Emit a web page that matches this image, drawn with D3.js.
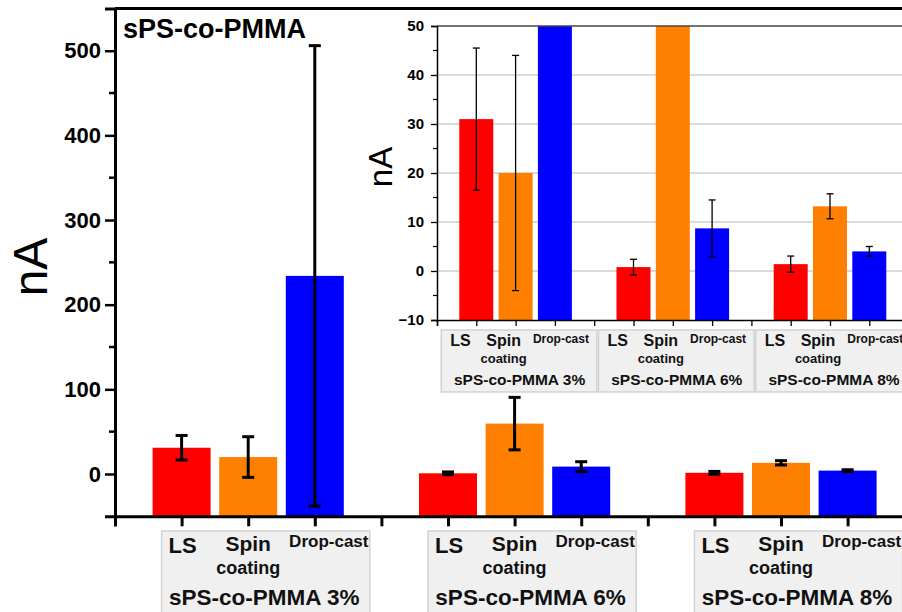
<!DOCTYPE html>
<html>
<head>
<meta charset="utf-8">
<script src="https://cdn.jsdelivr.net/npm/d3@7"></script>
<style>
  html, body { margin: 0; padding: 0; background: #fff; }
  svg { display: block; font-family: "Liberation Sans", Arial, sans-serif; }
</style>
</head>
<body>
<div id="chart"></div>
<script>
// data
const groups = ["sPS-co-PMMA 3%", "sPS-co-PMMA 6%", "sPS-co-PMMA 8%"];
const methods = ["LS", "Spin coating", "Drop-cast"];
const lsMean = [31, 0.8, 1.4];
const lsErr = [14.5, 1.6, 1.65];
const spinMean = [20, 59.5, 13.2];
const spinErr = [24, 31, 2.55];
const dropMean = [234, 8.7, 4.0];
const dropErr = [272, 5.8, 1.0];
const mainTicks = [0, 100, 200, 300, 400, 500];
const insetTicks = [-10, 0, 10, 20, 30, 40, 50];
const colors = ["#ff0000", "#ff8000", "#0000ff"];

const W = 902, H = 612;
const means = [lsMean, spinMean, dropMean];
const errs = [lsErr, spinErr, dropErr];

const rows = [];
groups.forEach((g, gi) => {
    methods.forEach((m, mi) => {
        rows.push({ group: gi, method: mi, pos: gi * 4 + mi + 1,
                    value: means[mi][gi], err: errs[mi][gi] });
    });
});

const svg = d3.select("#chart").append("svg")
    .attr("width", W).attr("height", H);

// ---------- main chart ----------
const x = d3.scaleLinear().domain([0, 12]).range([115, 115 + 12 * 66.6]);
const y = d3.scaleLinear().domain([-50, 550]).range([516.3, 8.4]);
const bw = 58;

const main = svg.append("g");

main.selectAll("rect.bar").data(rows).enter().append("rect")
    .attr("class", "bar")
    .attr("x", d => x(d.pos) - bw / 2)
    .attr("width", bw)
    .attr("y", d => y(d.value))
    .attr("height", d => y(-50) - y(d.value))
    .attr("fill", d => colors[d.method]);

const eb = main.selectAll("g.err").data(rows).enter().append("g")
    .attr("class", "err")
    .attr("stroke", "#000").attr("stroke-width", 3).attr("fill", "none");
eb.append("line")
    .attr("x1", d => x(d.pos)).attr("x2", d => x(d.pos))
    .attr("y1", d => y(d.value - d.err)).attr("y2", d => y(d.value + d.err));
eb.append("line")
    .attr("x1", d => x(d.pos) - 6).attr("x2", d => x(d.pos) + 6)
    .attr("y1", d => y(d.value + d.err)).attr("y2", d => y(d.value + d.err));
eb.append("line")
    .attr("x1", d => x(d.pos) - 6).attr("x2", d => x(d.pos) + 6)
    .attr("y1", d => y(d.value - d.err)).attr("y2", d => y(d.value - d.err));

// frame lines
main.append("line")
    .attr("x1", x(0)).attr("x2", W).attr("y1", y(550)).attr("y2", y(550))
    .attr("stroke", "#000").attr("stroke-width", 3);

const yAxis = main.append("g")
    .attr("transform", `translate(${x(0)},0)`)
    .call(d3.axisLeft(y).tickValues(mainTicks).tickSize(10).tickPadding(4));
yAxis.select(".domain").attr("stroke-width", 3);
yAxis.selectAll(".tick line").attr("stroke-width", 2.5);
yAxis.selectAll("text")
    .attr("font-size", 22).attr("font-weight", "bold").attr("fill", "#000")
    .attr("font-family", "Liberation Sans, Arial, sans-serif");

main.append("g")
    .attr("transform", `translate(${x(0)},0)`)
    .selectAll("line").data(d3.range(50, 550, 100)).enter().append("line")
    .attr("x1", -6).attr("x2", 0)
    .attr("y1", d => y(d)).attr("y2", d => y(d))
    .attr("stroke", "#000").attr("stroke-width", 2.5);

const xAxis = main.append("g")
    .attr("transform", `translate(0,${y(-50)})`)
    .call(d3.axisBottom(x).tickValues(d3.range(0, 12)).tickSize(10).tickFormat(""));
xAxis.select(".domain").attr("stroke-width", 3);
xAxis.selectAll(".tick line").attr("stroke-width", 3);

main.append("text")
    .attr("transform", "translate(47,267) rotate(-90)")
    .attr("text-anchor", "middle")
    .attr("font-size", 48)
    .text("nA");

main.append("text")
    .attr("x", 123).attr("y", 38)
    .attr("font-size", 27).attr("font-weight", "bold")
    .text("sPS-co-PMMA");

// category label boxes under each group
function labelBoxes(parent, xs, opt) {
    groups.forEach((g, gi) => {
        const p1 = xs(gi * 4 + 1), p2 = xs(gi * 4 + 2), p3 = xs(gi * 4 + 3);
        const gg = parent.append("g").attr("font-weight", "bold").attr("fill", "#111");
        gg.append("rect")
            .attr("x", p1 + opt.boxL).attr("y", opt.top)
            .attr("width", (p3 + opt.boxR) - (p1 + opt.boxL))
            .attr("height", opt.boxH)
            .attr("fill", "#f0f0f0").attr("stroke", "#d2d2d2").attr("stroke-width", 1.5);
        gg.append("text")
            .attr("x", p1 + opt.lsDx).attr("y", opt.top + opt.lsY)
            .attr("font-size", opt.lsF).text(methods[0]);
        const words = methods[1].split(" ");
        gg.append("text")
            .attr("x", p2 + opt.spDx).attr("y", opt.top + opt.spY)
            .attr("text-anchor", "middle").attr("font-size", opt.spF).text(words[0]);
        gg.append("text")
            .attr("x", p2 + opt.spDx).attr("y", opt.top + opt.coY)
            .attr("text-anchor", "middle").attr("font-size", opt.coF).text(words[1]);
        gg.append("text")
            .attr("x", p3 + opt.dcDx).attr("y", opt.top + opt.dcY)
            .attr("text-anchor", "middle").attr("font-size", opt.dcF).text(methods[2]);
        gg.append("text")
            .attr("x", p2 + opt.gDx).attr("y", opt.top + opt.gY)
            .attr("text-anchor", "middle").attr("font-size", opt.gF).text(g);
    });
}

labelBoxes(main, x, {
    top: 531, boxH: 100, boxL: -20, boxR: 55,
    lsDx: -13, lsY: 22, lsF: 22,
    spDx: 0, spY: 20, spF: 21,
    coY: 43, coF: 18,
    dcDx: 14, dcY: 16, dcF: 17,
    gDx: 16, gY: 74, gF: 22.5
});

// ---------- inset ----------
const xi = d3.scaleLinear().domain([0, 12]).range([437, 437 + 12 * 39.3]);
const yi = d3.scaleLinear().domain([-10, 50]).range([320, 26]);
const bwi = 34;

const inset = svg.append("g");

inset.append("rect")
    .attr("x", xi(0)).attr("y", yi(50))
    .attr("width", W - xi(0)).attr("height", yi(-10) - yi(50))
    .attr("fill", "#fff");

inset.append("g").selectAll("line").data(insetTicks.slice(1, -1)).enter().append("line")
    .attr("x1", xi(0)).attr("x2", W)
    .attr("y1", d => yi(d)).attr("y2", d => yi(d))
    .attr("stroke", "#b8b8b8").attr("stroke-width", 1.2);

inset.append("clipPath").attr("id", "insetClip")
    .append("rect")
    .attr("x", xi(0)).attr("y", yi(50))
    .attr("width", W - xi(0)).attr("height", yi(-10) - yi(50));

const ib = inset.append("g").attr("clip-path", "url(#insetClip)");
ib.selectAll("rect").data(rows).enter().append("rect")
    .attr("x", d => xi(d.pos) - bwi / 2)
    .attr("width", bwi)
    .attr("y", d => yi(d.value))
    .attr("height", d => yi(-10) - yi(d.value))
    .attr("fill", d => colors[d.method]);

const ieb = ib.selectAll("g.err").data(rows.filter(d => d.value < 50)).enter().append("g")
    .attr("class", "err")
    .attr("stroke", "#000").attr("stroke-width", 1.3);
ieb.append("line")
    .attr("x1", d => xi(d.pos)).attr("x2", d => xi(d.pos))
    .attr("y1", d => yi(d.value - d.err)).attr("y2", d => yi(d.value + d.err));
ieb.append("line")
    .attr("x1", d => xi(d.pos) - 3.5).attr("x2", d => xi(d.pos) + 3.5)
    .attr("y1", d => yi(d.value + d.err)).attr("y2", d => yi(d.value + d.err));
ieb.append("line")
    .attr("x1", d => xi(d.pos) - 3.5).attr("x2", d => xi(d.pos) + 3.5)
    .attr("y1", d => yi(d.value - d.err)).attr("y2", d => yi(d.value - d.err));

inset.append("line")
    .attr("x1", xi(0)).attr("x2", W).attr("y1", yi(50)).attr("y2", yi(50))
    .attr("stroke", "#444").attr("stroke-width", 1.6);

const yiAxis = inset.append("g")
    .attr("transform", `translate(${xi(0)},0)`)
    .call(d3.axisLeft(yi).tickValues(insetTicks).tickSize(6).tickPadding(7));
yiAxis.select(".domain").attr("stroke-width", 1.5);
yiAxis.selectAll(".tick line").attr("stroke-width", 1.3);
yiAxis.selectAll("text")
    .attr("font-size", 15).attr("font-weight", "bold").attr("fill", "#000")
    .attr("font-family", "Liberation Sans, Arial, sans-serif");

inset.append("g")
    .attr("transform", `translate(${xi(0)},0)`)
    .selectAll("line").data(d3.range(-5, 50, 10)).enter().append("line")
    .attr("x1", -4).attr("x2", 0)
    .attr("y1", d => yi(d)).attr("y2", d => yi(d))
    .attr("stroke", "#000").attr("stroke-width", 1.2);

const xiAxis = inset.append("g")
    .attr("transform", `translate(0,${yi(-10)})`)
    .call(d3.axisBottom(xi).tickValues(d3.range(0, 12)).tickSize(6).tickFormat(""));
xiAxis.select(".domain").attr("stroke-width", 1.5);
xiAxis.selectAll(".tick line").attr("stroke-width", 1.3);

inset.append("text")
    .attr("transform", "translate(392,167) rotate(-90)")
    .attr("text-anchor", "middle")
    .attr("font-size", 33)
    .text("nA");

labelBoxes(inset, xi, {
    top: 330, boxH: 62, boxL: -35, boxR: 42,
    lsDx: -26, lsY: 16, lsF: 16,
    spDx: -12, spY: 16, spF: 16,
    coY: 33, coF: 13,
    dcDx: 6, dcY: 13, dcF: 12,
    gDx: 4, gY: 55, gF: 15.5
});
</script>
</body>
</html>
